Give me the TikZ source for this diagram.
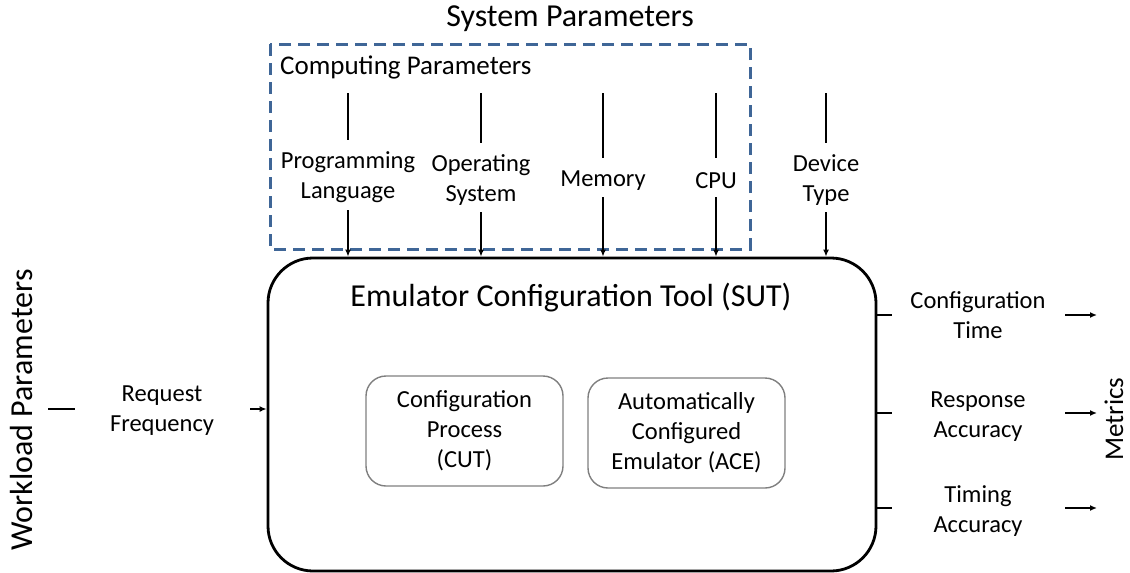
\documentclass[tikz,border=0pt]{standalone}
\usepackage{fontspec}
\setmainfont{Carlito}
\usetikzlibrary{arrows.meta}
\definecolor{dashblue}{HTML}{3F6697}
\definecolor{innergray}{HTML}{7F7F7F}
\tikzset{
  lbl/.style={align=center,inner sep=0pt,font=\fontsize{24.5}{30}\selectfont},
  bigtxt/.style={inner sep=0pt,font=\fontsize{32}{38}\selectfont},
  midtxt/.style={inner sep=0pt,font=\fontsize{27}{32}\selectfont},
  conn/.style={line width=1.4pt},
  arr/.style={line width=1.4pt,-{Latex[length=7pt,width=6pt]}},
  mainbox/.style={draw,line width=2.8pt,rounded corners=45pt},
  innerbox/.style={draw=innergray,line width=1.4pt,rounded corners=20pt,align=center,inner sep=0pt,font=\fontsize{24.5}{30}\selectfont},
  dashbox/.style={draw=dashblue,line width=3pt,dash pattern=on 12pt off 7pt}
}
\begin{document}
\begin{tikzpicture}[x=1pt,y=-1pt]
\useasboundingbox (0,0) rectangle (1130,573);
% titles
\node[bigtxt] (sys) at (570,19) {System Parameters};
\draw[dashbox] (270,44) rectangle (750,249);
\node[midtxt,anchor=west] (comp) at (280,67) {Computing Parameters};
% main box
\node[mainbox,minimum width=608pt,minimum height=313pt] (main) at (572,414.5) {};
\node[bigtxt] (title) at (571,298) {Emulator Configuration Tool (SUT)};
\node[innerbox,minimum width=197pt,minimum height=110pt] (cut) at (464.5,431) {Configuration\\Process\\(CUT)};
\node[innerbox,minimum width=197pt,minimum height=110pt] (ace) at (686.5,433) {Automatically\\Configured\\Emulator (ACE)};
% top parameters
\node[lbl] (pl) at (348,177) {Programming\\Language};
\node[lbl] (os) at (481,180) {Operating\\System};
\node[lbl] (mem) at (603,181) {Memory};
\node[lbl] (cpu) at (716,181) {CPU};
\node[lbl] (dev) at (826,180) {Device\\Type};
\coordinate (plA) at (348,93);  \coordinate (plB) at (348,140); \coordinate (plC) at (348,210);
\coordinate (osA) at (481,93);  \coordinate (osB) at (481,143); \coordinate (osC) at (481,212);
\coordinate (memA) at (603,93); \coordinate (memB) at (603,158); \coordinate (memC) at (603,197);
\coordinate (cpuA) at (716,93); \coordinate (cpuB) at (716,158); \coordinate (cpuC) at (716,197);
\coordinate (devA) at (826,93); \coordinate (devB) at (826,143); \coordinate (devC) at (826,212);
\foreach \p in {pl,os,mem,cpu,dev}{
  \draw[conn] (\p A) -- (\p B);
  \draw[arr] (\p C) -- (main.north -| \p C);
}
% left side
\node[bigtxt,rotate=90] (work) at (22,410) {Workload Parameters};
\node[lbl] (req) at (162,411) {Request\\Frequency};
\coordinate (wA) at (48,409); \coordinate (wB) at (75,409); \coordinate (wC) at (250,409);
\draw[conn] (wA) -- (wB);
\draw[arr] (wC) -- (main.west |- wC);
% right side
\node[midtxt,rotate=90] (met) at (1114,419) {Metrics};
\node[lbl] (ct) at (978,315) {Configuration\\Time};
\node[lbl] (ra) at (978,417) {Response\\Accuracy};
\node[lbl] (ta) at (978,511) {Timing\\Accuracy};
\coordinate (ctA) at (892,315); \coordinate (ctB) at (1065,315); \coordinate (ctC) at (1097,315);
\coordinate (raA) at (892,413); \coordinate (raB) at (1065,413); \coordinate (raC) at (1097,413);
\coordinate (taA) at (892,508); \coordinate (taB) at (1065,508); \coordinate (taC) at (1097,508);
\foreach \p in {ct,ra,ta}{
  \draw[conn] (main.east |- \p A) -- (\p A);
  \draw[arr] (\p B) -- (\p C);
}
\end{tikzpicture}
\end{document}
